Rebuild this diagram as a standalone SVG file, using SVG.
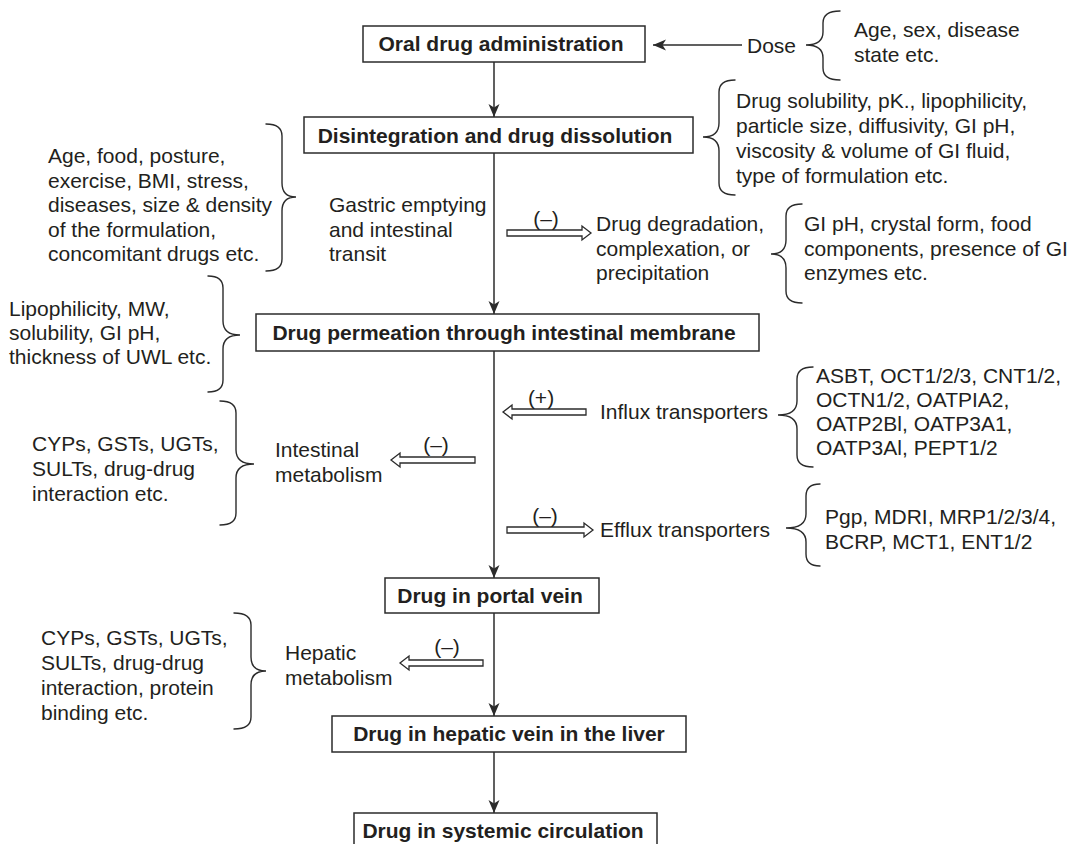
<svg xmlns="http://www.w3.org/2000/svg" width="1082" height="844" viewBox="0 0 1082 844">
  <style>
    .box { fill: #ffffff; stroke: #2b2b2b; stroke-width: 1.5; }
    .title { font-family: "Liberation Sans", Arial, Helvetica, sans-serif; font-size: 21px; font-weight: bold; fill: #231f20; text-anchor: middle; }
    .txt { font-family: "Liberation Sans", Arial, Helvetica, sans-serif; font-size: 21px; fill: #231f20; }
    .sign { font-family: "Liberation Sans", Arial, Helvetica, sans-serif; font-size: 21px; fill: #231f20; text-anchor: middle; }
    .flow { fill: none; stroke: #2b2b2b; stroke-width: 1.5; marker-end: url(#head); }
    .hollow { fill: #ffffff; stroke: #2b2b2b; stroke-width: 1.3; stroke-linejoin: miter; }
    .brace { fill: none; stroke: #2b2b2b; stroke-width: 1.4; stroke-linecap: round; }
  </style>
  <defs>
    <marker id="head" viewBox="-14 -7 15 14" refX="0" refY="0" markerWidth="15" markerHeight="14" markerUnits="userSpaceOnUse" orient="auto">
      <path d="M0,0 L-13,-5.5 L-9.5,0 L-13,5.5 Z" fill="#2b2b2b"/>
    </marker>
  </defs>

  <rect width="1082" height="844" fill="#ffffff"/>

  <!-- connectors: main flow, dose input and the hollow effect arrows -->
  <g id="connectors">
    <line class="flow" x1="494" y1="62" x2="494" y2="117"/>
    <line class="flow" x1="494" y1="153" x2="494" y2="314"/>
    <line class="flow" x1="494" y1="351" x2="494" y2="578"/>
    <line class="flow" x1="494" y1="613" x2="494" y2="716"/>
    <line class="flow" x1="494" y1="752" x2="494" y2="813"/>
    <line class="flow" x1="742" y1="45" x2="653" y2="45"/>

    <polygon id="arrow-degradation" class="hollow" points="507,230 582,230 582,226 591,233 582,240 582,236 507,236"/>
    <polygon id="arrow-influx" class="hollow" points="586,409 512,409 512,405 503,412 512,419 512,415 586,415"/>
    <polygon id="arrow-intestinal" class="hollow" points="475,457 400,457 400,453 391,460 400,467 400,463 475,463"/>
    <polygon id="arrow-efflux" class="hollow" points="507,527 584,527 584,523 593,530 584,537 584,533 507,533"/>
    <polygon id="arrow-hepatic" class="hollow" points="483,660 409,660 409,656 400,663 409,670 409,666 483,666"/>

    <text class="sign" x="546" y="226">(–)</text>
    <text class="sign" x="541" y="405">(+)</text>
    <text class="sign" x="436" y="452">(–)</text>
    <text class="sign" x="545" y="523">(–)</text>
    <text class="sign" x="447" y="654">(–)</text>
  </g>

  <!-- main boxes -->
  <g id="oral-administration">
    <rect class="box" x="363" y="26" width="282" height="36"/>
    <text class="title" x="501" y="51">Oral drug administration</text>
  </g>
  <g id="dissolution">
    <rect class="box" x="304" y="117" width="389" height="36"/>
    <text class="title" x="495" y="143">Disintegration and drug dissolution</text>
  </g>
  <g id="permeation">
    <rect class="box" x="256" y="314" width="503" height="37"/>
    <text class="title" x="504" y="340">Drug permeation through intestinal membrane</text>
  </g>
  <g id="portal-vein">
    <rect class="box" x="385" y="578" width="214" height="35"/>
    <text class="title" x="490" y="603">Drug in portal vein</text>
  </g>
  <g id="hepatic-vein">
    <rect class="box" x="332" y="716" width="354" height="36"/>
    <text class="title" x="509" y="741">Drug in hepatic vein in the liver</text>
  </g>
  <g id="systemic-circulation">
    <rect class="box" x="354" y="813" width="303" height="36"/>
    <text class="title" x="503" y="838">Drug in systemic circulation</text>
  </g>

  <!-- dose and its factors -->
  <g id="dose">
    <text class="txt" x="747" y="53">Dose</text>
    <path class="brace" d="M840,11 Q823,11 823,23 L823,32 Q823,45 806,45 Q823,45 823,58 L823,68 Q823,80 840,80"/>
    <text class="txt" x="854" y="37">Age, sex, disease</text>
    <text class="txt" x="854" y="62">state etc.</text>
  </g>

  <!-- dissolution factors -->
  <g id="dissolution-factors">
    <path class="brace" d="M735,80 Q719,80 719,92 L719,123 Q719,137 703,137 Q719,137 719,151 L719,183 Q719,195 735,195"/>
    <text class="txt" x="736" y="108">Drug solubility, pK., lipophilicity,</text>
    <text class="txt" x="736" y="133">particle size, diffusivity, GI pH,</text>
    <text class="txt" x="736" y="158">viscosity &amp; volume of GI fluid,</text>
    <text class="txt" x="736" y="183">type of formulation etc.</text>
  </g>

  <!-- gastric emptying and its factors -->
  <g id="transit-factors">
    <text class="txt" x="48" y="163">Age, food, posture,</text>
    <text class="txt" x="48" y="187.5">exercise, BMI, stress,</text>
    <text class="txt" x="48" y="212">diseases, size &amp; density</text>
    <text class="txt" x="48" y="236.5">of the formulation,</text>
    <text class="txt" x="48" y="261">concomitant drugs etc.</text>
    <path class="brace" d="M266,124 Q282,124 282,136 L282,183 Q282,197 296,197 Q282,197 282,211 L282,259 Q282,271 266,271"/>
  </g>
  <g id="gastric-transit">
    <text class="txt" x="329" y="212">Gastric emptying</text>
    <text class="txt" x="329" y="236.5">and intestinal</text>
    <text class="txt" x="329" y="261">transit</text>
  </g>

  <!-- degradation branch -->
  <g id="degradation">
    <text class="txt" x="596" y="231">Drug degradation,</text>
    <text class="txt" x="596" y="255.5">complexation, or</text>
    <text class="txt" x="596" y="280">precipitation</text>
    <path class="brace" d="M802,204 Q786,204 786,216 L786,240 Q786,254 771,254 Q786,254 786,268 L786,291 Q786,303 802,303"/>
    <text class="txt" x="804" y="231">GI pH, crystal form, food</text>
    <text class="txt" x="804" y="255.5">components, presence of GI</text>
    <text class="txt" x="804" y="280">enzymes etc.</text>
  </g>

  <!-- permeation factors -->
  <g id="permeation-factors">
    <text class="txt" x="9" y="316">Lipophilicity, MW,</text>
    <text class="txt" x="9" y="340">solubility, GI pH,</text>
    <text class="txt" x="9" y="364">thickness of UWL etc.</text>
    <path class="brace" d="M208,276 Q223,276 223,288 L223,321 Q223,335 240,335 Q223,335 223,349 L223,380 Q223,392 208,392"/>
  </g>

  <!-- influx transporters -->
  <g id="influx">
    <text class="txt" x="600" y="419">Influx transporters</text>
    <path class="brace" d="M813,367 Q797,367 797,379 L797,401 Q797,415 778,415 Q797,415 797,429 L797,455 Q797,467 813,467"/>
    <text class="txt" x="816" y="383">ASBT, OCT1/2/3, CNT1/2,</text>
    <text class="txt" x="816" y="407">OCTN1/2, OATPIA2,</text>
    <text class="txt" x="816" y="431">OATP2Bl, OATP3A1,</text>
    <text class="txt" x="816" y="455">OATP3Al, PEPT1/2</text>
  </g>

  <!-- intestinal metabolism -->
  <g id="intestinal-metabolism">
    <text class="txt" x="32" y="451">CYPs, GSTs, UGTs,</text>
    <text class="txt" x="32" y="476">SULTs, drug-drug</text>
    <text class="txt" x="32" y="501">interaction etc.</text>
    <path class="brace" d="M220,401 Q236,401 236,413 L236,450 Q236,464 254,464 Q236,464 236,478 L236,513 Q236,525 220,525"/>
    <text class="txt" x="275" y="457">Intestinal</text>
    <text class="txt" x="275" y="482">metabolism</text>
  </g>

  <!-- efflux transporters -->
  <g id="efflux">
    <text class="txt" x="600" y="537">Efflux transporters</text>
    <path class="brace" d="M820,484 Q806,484 806,496 L806,514 Q806,528 786,528 Q806,528 806,542 L806,554 Q806,566 820,566"/>
    <text class="txt" x="825" y="524">Pgp, MDRI, MRP1/2/3/4,</text>
    <text class="txt" x="825" y="549">BCRP, MCT1, ENT1/2</text>
  </g>

  <!-- hepatic metabolism -->
  <g id="hepatic-metabolism">
    <text class="txt" x="41" y="645">CYPs, GSTs, UGTs,</text>
    <text class="txt" x="41" y="670">SULTs, drug-drug</text>
    <text class="txt" x="41" y="695">interaction, protein</text>
    <text class="txt" x="41" y="720">binding etc.</text>
    <path class="brace" d="M234,613 Q251,613 251,625 L251,657 Q251,671 266,671 Q251,671 251,685 L251,717 Q251,729 234,729"/>
    <text class="txt" x="285" y="660">Hepatic</text>
    <text class="txt" x="285" y="685">metabolism</text>
  </g>
</svg>
